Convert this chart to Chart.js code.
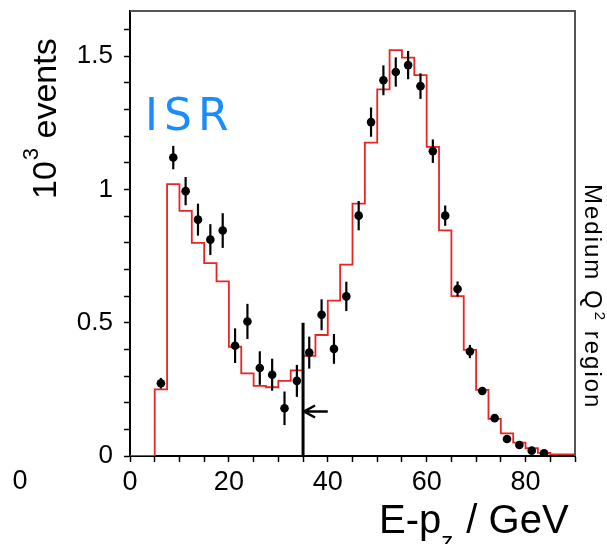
<!DOCTYPE html>
<html>
<head>
<meta charset="utf-8">
<script src="https://cdn.jsdelivr.net/npm/chart.js@4.4.1/dist/chart.umd.min.js"></script>
<style>
  html, body { margin: 0; padding: 0; background: #fff; }
  #wrap { width: 607px; height: 544px; }
</style>
</head>
<body>
<div id="wrap"><canvas id="myChart" width="607" height="544"></canvas></div>
<script>
// MC histogram, 2.5 GeV bins starting at 0
const binStart = 0;
const binWidth = 2.5;
const mcValues = [
    0, 0, 0.25, 1.02, 0.92, 0.80, 0.724, 0.655, 0.41, 0.31,
    0.263, 0.258, 0.282, 0.321, 0.376, 0.454, 0.583, 0.718, 0.947, 1.176,
    1.376, 1.523, 1.495, 1.429, 1.16, 0.847, 0.60, 0.398, 0.248, 0.139,
    0.085, 0.05, 0.029, 0.012, 0.006, 0.006
];

// data points (bin centres), values and errors in 10^3 events
const dataCentres = [
    6.25, 8.75, 11.25, 13.75, 16.25, 18.75, 21.25, 23.75, 26.25, 28.75,
    31.25, 33.75, 36.25, 38.75, 41.25, 43.75, 46.25, 48.75, 51.25, 53.75,
    56.25, 58.75, 61.25, 63.75, 66.25, 68.75, 71.25, 73.75, 76.25, 78.75,
    81.25, 83.75
];
const dataValues = [
    0.273, 1.12, 0.994, 0.887, 0.812, 0.846, 0.414, 0.505, 0.33, 0.305,
    0.179, 0.282, 0.388, 0.53, 0.402, 0.599, 0.902, 1.253, 1.41, 1.441,
    1.467, 1.388, 1.144, 0.902, 0.627, 0.392, 0.244, 0.142, 0.064, 0.041,
    0.02, 0.01
];
const dataErrors = [
    0.02, 0.044, 0.053, 0.06, 0.058, 0.065, 0.065, 0.066, 0.063, 0.06,
    0.063, 0.06, 0.06, 0.058, 0.056, 0.055, 0.055, 0.055, 0.056, 0.055,
    0.053, 0.048, 0.044, 0.038, 0.028, 0.025, 0.015, 0.01, 0.008, 0.006,
    0.005, 0.004
];

const xLabelled = [0, 20, 40, 60, 80];
const yLabelled = [0, 0.5, 1, 1.5];

// E-pz cut marker
const cutValue = 35;
const cutTop = 0.5;
const arrowTail = 40;
const arrowLevel = 0.167;

const mainFont = '"Liberation Sans", Arial, Helvetica, sans-serif';

function myLoadFunction() {
    const ctx = document.getElementById('myChart').getContext('2d');

    // histogram as stepped line through left bin edges
    const mcPoints = mcValues.map((v, i) => ({ x: binStart + i * binWidth, y: v }));
    mcPoints.push({ x: binStart + mcValues.length * binWidth, y: mcValues[mcValues.length - 1] });

    const dataPoints = dataCentres.map((c, i) => ({ x: c, y: dataValues[i] }));

    const decorPlugin = {
        id: 'decor',
        afterDatasetDraw(chart, args) {
            // error bars, drawn after histogram and before the dots
            if (args.index !== 1) return;
            const xs = chart.scales.x, ys = chart.scales.y, c = chart.ctx;
            c.save();
            c.strokeStyle = '#000';
            c.lineWidth = 2.2;
            dataCentres.forEach((xc, i) => {
                const px = xs.getPixelForValue(xc);
                c.beginPath();
                c.moveTo(px, ys.getPixelForValue(dataValues[i] - dataErrors[i]));
                c.lineTo(px, ys.getPixelForValue(dataValues[i] + dataErrors[i]));
                c.stroke();
            });
            c.restore();
        },
        afterDraw(chart) {
            const xs = chart.scales.x, ys = chart.scales.y, c = chart.ctx;
            const a = chart.chartArea;
            c.save();

            // top and right frame
            c.strokeStyle = '#555';
            c.lineWidth = 2;
            c.beginPath();
            c.moveTo(a.left, a.top);
            c.lineTo(a.right, a.top);
            c.lineTo(a.right, a.bottom);
            c.stroke();

            // cut line and arrow
            c.strokeStyle = '#000';
            c.lineWidth = 3;
            const cx = xs.getPixelForValue(cutValue);
            c.beginPath();
            c.moveTo(cx, ys.getPixelForValue(0));
            c.lineTo(cx, ys.getPixelForValue(cutTop));
            c.stroke();
            const ay = ys.getPixelForValue(arrowLevel);
            const tip = cx + 1;
            c.lineWidth = 2.5;
            c.beginPath();
            c.moveTo(xs.getPixelForValue(arrowTail), ay);
            c.lineTo(tip, ay);
            c.moveTo(tip + 11, ay - 6);
            c.lineTo(tip, ay);
            c.lineTo(tip + 11, ay + 6);
            c.stroke();

            // ISR label
            c.fillStyle = '#1a8cff';
            c.font = '44px "DejaVu Sans", sans-serif';
            c.textBaseline = 'alphabetic';
            c.letterSpacing = '6px';
            c.fillText('ISR', 145, 130);
            c.letterSpacing = '0px';

            c.fillStyle = '#000';

            // stray zero at the far left
            c.font = '27px ' + mainFont;
            c.textBaseline = 'middle';
            c.textAlign = 'center';
            c.fillText('0', 20, 482);
            c.textAlign = 'left';
            c.textBaseline = 'alphabetic';

            // y title: 10^3 events
            c.save();
            c.translate(56, 199);
            c.rotate(-Math.PI / 2);
            c.font = '34px ' + mainFont;
            c.fillText('10', 0, 0);
            let w = c.measureText('10').width;
            c.font = '22px ' + mainFont;
            c.fillText('3', w + 1, -18);
            w += c.measureText('3').width + 1;
            c.font = '34px ' + mainFont;
            c.fillText(' events', w, 0);
            c.restore();

            // x title: E-p_z / GeV
            c.font = '40px ' + mainFont;
            c.fillText('E-p', 379, 533);
            let xw = 379 + c.measureText('E-p').width;
            c.font = '24px ' + mainFont;
            c.fillText('z', xw, 549);
            xw += c.measureText('z').width + 2;
            c.font = '40px ' + mainFont;
            c.fillText(' / GeV', xw, 533);

            // right side label: Medium Q^2 region
            c.save();
            c.translate(585, 184);
            c.rotate(Math.PI / 2);
            c.letterSpacing = '2px';
            c.font = '24px ' + mainFont;
            c.fillText('Medium Q', 0, 0);
            let mw = c.measureText('Medium Q').width;
            c.font = '15px ' + mainFont;
            c.fillText('2', mw + 1, -10);
            mw += c.measureText('2').width + 1;
            c.font = '24px ' + mainFont;
            c.fillText(' region', mw, 0);
            c.letterSpacing = '0px';
            c.restore();

            c.restore();
        }
    };

    const myChartConfig = {
        type: 'scatter',
        data: {
            datasets: [
                {
                    type: 'scatter',
                    label: 'Data',
                    data: dataPoints,
                    pointRadius: 4.3,
                    pointBackgroundColor: '#000',
                    pointBorderWidth: 0,
                    showLine: false
                },
                {
                    type: 'line',
                    label: 'MC',
                    data: mcPoints,
                    stepped: 'before',
                    borderColor: '#e82525',
                    borderWidth: 1.8,
                    pointRadius: 0,
                    fill: false
                }
            ]
        },
        options: {
            responsive: false,
            animation: false,
            layout: { padding: { left: 0, right: 32, top: 11, bottom: 0 } },
            plugins: {
                legend: { display: false },
                tooltip: { enabled: false }
            },
            scales: {
                x: {
                    type: 'linear',
                    min: 0,
                    max: 90,
                    afterFit(scale) {
                        scale.height = 88;
                        scale.paddingLeft = 0;
                        scale.paddingRight = 0;
                    },
                    border: { display: true, color: '#000', width: 2 },
                    grid: { drawOnChartArea: false, drawTicks: true, tickLength: 6, tickColor: '#000', tickWidth: 1.5 },
                    ticks: {
                        stepSize: 5,
                        autoSkip: false,
                        maxRotation: 0,
                        padding: 4,
                        color: '#000',
                        font: { family: mainFont, size: 27 },
                        callback: (v) => xLabelled.includes(v) ? String(v) : ''
                    }
                },
                y: {
                    type: 'linear',
                    min: 0,
                    max: 1.67,
                    afterFit(scale) {
                        scale.width = 130;
                        scale.paddingTop = 0;
                        scale.paddingBottom = 0;
                    },
                    border: { display: true, color: '#000', width: 2 },
                    grid: { drawOnChartArea: false, drawTicks: true, tickLength: 6, tickColor: '#000', tickWidth: 1.5 },
                    ticks: {
                        stepSize: 0.1,
                        includeBounds: false,
                        autoSkip: false,
                        padding: 11,
                        color: '#000',
                        font: { family: mainFont, size: 26 },
                        callback: (v) => {
                            const r = Math.round(v * 10) / 10;
                            return yLabelled.includes(r) ? String(r) : '';
                        }
                    }
                }
            }
        },
        plugins: [decorPlugin]
    };
    const myChart = new Chart(ctx, myChartConfig);
}

document.addEventListener('DOMContentLoaded', myLoadFunction);
</script>
</body>
</html>
